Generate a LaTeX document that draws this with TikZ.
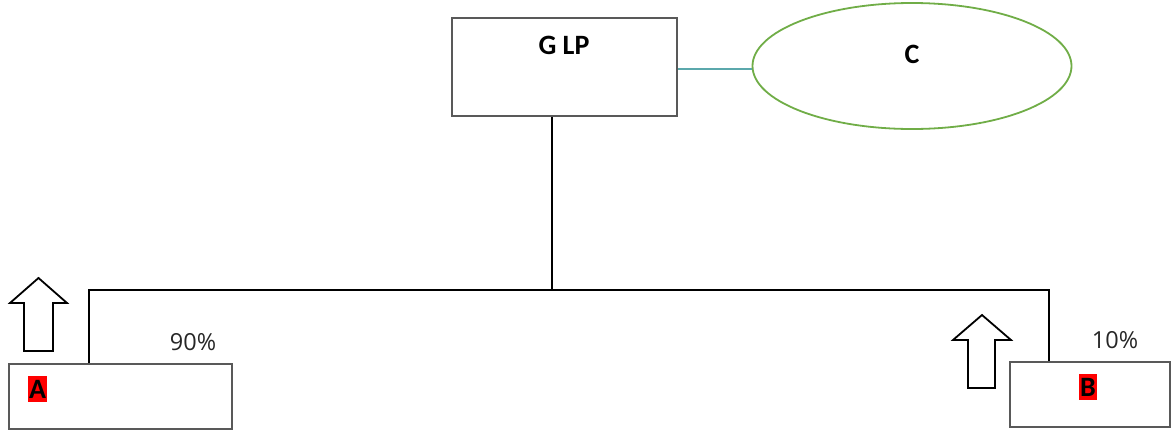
\documentclass[tikz,border=0pt]{standalone}
\usepackage{fontspec}
\setmainfont{Carlito}
\newfontfamily\pctfont{Open Sans}
\usetikzlibrary{shapes.geometric}
\definecolor{boxgray}{HTML}{595959}
\definecolor{cgreen}{HTML}{70AD47}
\definecolor{tealline}{HTML}{5BA8AC}
\tikzset{
  box/.style={draw=boxgray, line width=1.8pt, rectangle, inner sep=0pt, anchor=north west},
  conn/.style={draw=black, line width=1.6pt},
  blockarrow/.style={draw=black, line width=1.8pt, fill=white, line join=miter},
  lbl/.style={font=\bfseries\fontsize{28}{30}\selectfont, inner sep=0pt},
  pct/.style={font=\pctfont\fontsize{23.5}{26}\selectfont, text=black!85, inner sep=0pt},
}
\begin{document}
\begin{tikzpicture}[x=1pt,y=-1pt]
\useasboundingbox (0,0) rectangle (1171,432);
% G LP box
\node[box, minimum width=225pt, minimum height=98pt] (glp) at (451,17) {};
\node[lbl] (glpt) at (564,45) {G LP};
% C ellipse
\node[ellipse, draw=cgreen, line width=1.8pt, minimum width=319pt, minimum height=126pt, inner sep=0pt] (c) at (912,66) {};
\node[lbl] (ct) at (912,54) {C};
\draw[draw=tealline, line width=1.5pt] (glp.east |- 0,69) -- (c.west |- 0,69);
% A and B boxes
\node[box, minimum width=223pt, minimum height=65pt] (a) at (8,363) {};
\node[box, minimum width=160pt, minimum height=65pt] (b) at (1009,361) {};
\node[lbl, fill=red, inner xsep=1.5pt, inner ysep=4pt] (at) at (37.5,389) {A};
\node[lbl, fill=red, inner xsep=1.5pt, inner ysep=4pt] (bt) at (1088,387) {B};
% connectors
\coordinate (mid) at (552,290);
\coordinate (la) at (89,290);
\coordinate (lb) at (1049,290);
\draw[conn] (glp.south -| mid) -- (mid);
\draw[conn] (a.north -| la) -- (la) -- (lb) -- (b.north -| lb);
% percentages
\node[pct] (p90) at (193,342) {90\%};
\node[pct] (p10) at (1115,340) {10\%};
% block arrows
\draw[blockarrow] (24,351) -- (24,303) -- (10,303) -- (38.5,278) -- (67,303) -- (53,303) -- (53,351) -- cycle;
\draw[blockarrow] (968,388) -- (968,340) -- (953,340) -- (982,315) -- (1011,340) -- (995,340) -- (995,388) -- cycle;
\end{tikzpicture}
\end{document}
